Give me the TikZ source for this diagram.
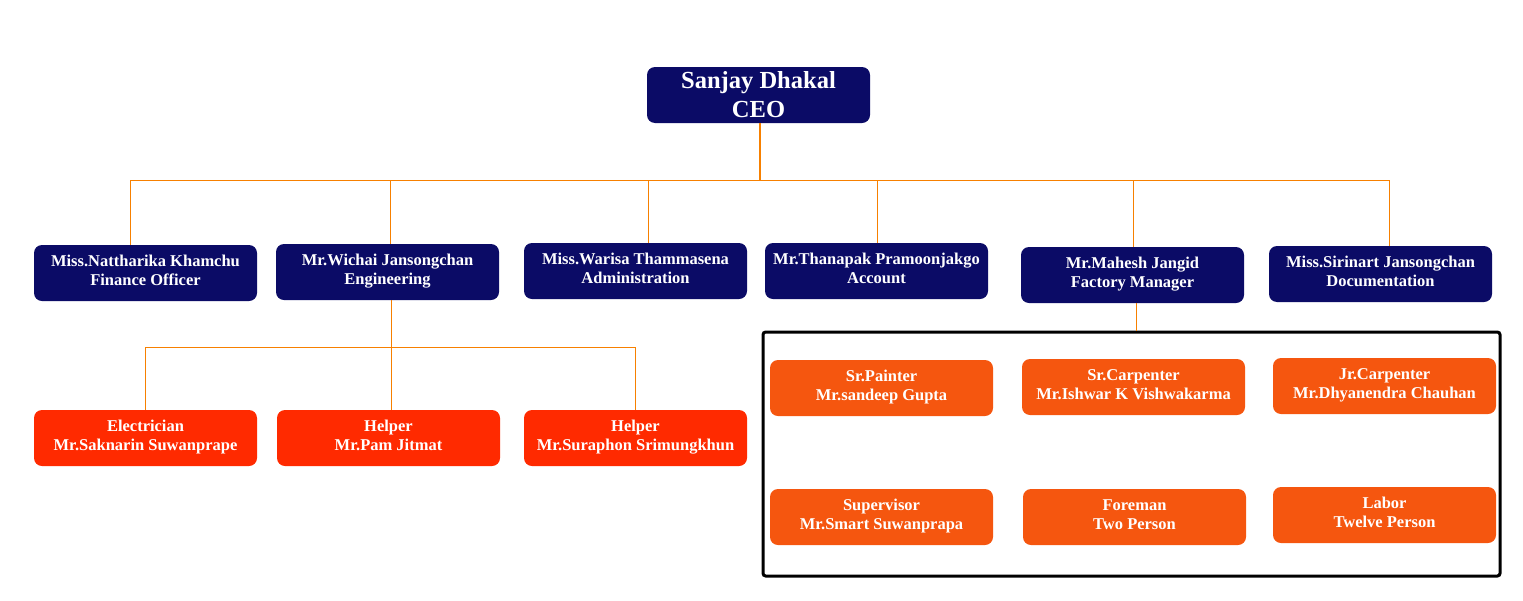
\documentclass[tikz,border=0pt]{standalone}
\usepackage{fontspec}
\setmainfont{Liberation Serif}
\definecolor{navy}{RGB}{11,11,102}
\definecolor{redbox}{RGB}{255,42,0}
\definecolor{orgbox}{RGB}{245,86,15}
\definecolor{conn}{RGB}{247,128,0}
\tikzset{
  core/.style={rounded corners=6pt, text=white, align=center, inner sep=0pt,
    minimum width=223*0.75pt, minimum height=56*0.75pt},
  base/.style={core, font=\bfseries\fontsize{12.375}{14.25}\selectfont,
    execute at begin node={\strut}, execute at end node={\strut}},
  bluebox/.style={base, fill=navy},
  redb/.style={base, fill=redbox},
  orgb/.style={base, fill=orgbox},
  ceobox/.style={core, fill=navy, font=\bfseries\fontsize{18.4}{21.75}\selectfont},
  link/.style={draw=conn, line width=0.75pt},
  thick link/.style={draw=conn, line width=1.5pt},
}
\begin{document}
\begin{tikzpicture}[x=0.75pt,y=-0.75pt]
\useasboundingbox (0,0) rectangle (1523,600);

\node[ceobox] (ceo) at (758.5,95) {Sanjay Dhakal\\CEO};

\node[bluebox] (b1) at (145.5,273) {Miss.Nattharika Khamchu\\Finance Officer};
\node[bluebox] (b2) at (387.5,272) {Mr.Wichai Jansongchan\\Engineering};
\node[bluebox] (b3) at (635.5,271) {Miss.Warisa Thammasena\\Administration};
\node[bluebox] (b4) at (876.5,271) {Mr.Thanapak Pramoonjakgo\\Account};
\node[bluebox] (b5) at (1132.5,275) {Mr.Mahesh Jangid\\Factory Manager};
\node[bluebox] (b6) at (1380.5,274) {Miss.Sirinart Jansongchan\\Documentation};

\node[redb] (r1) at (145.5,438) {Electrician\\Mr.Saknarin Suwanprape};
\node[redb] (r2) at (388.5,438) {Helper\\Mr.Pam Jitmat};
\node[redb] (r3) at (635.5,438) {Helper\\Mr.Suraphon Srimungkhun};

\node[draw=black, line width=2.25pt, rounded corners=2pt, inner sep=0pt,
  minimum width=737*0.75pt, minimum height=244*0.75pt] (grp) at (1131.5,454) {};

\node[orgb] (o1) at (881.5,388) {Sr.Painter\\Mr.sandeep Gupta};
\node[orgb] (o2) at (1133.5,387) {Sr.Carpenter\\Mr.Ishwar K Vishwakarma};
\node[orgb] (o3) at (1384.5,386) {Jr.Carpenter\\Mr.Dhyanendra Chauhan};
\node[orgb] (o4) at (881.5,517) {Supervisor\\Mr.Smart Suwanprapa};
\node[orgb] (o5) at (1134.5,517) {Foreman\\Two Person};
\node[orgb] (o6) at (1384.5,515) {Labor\\Twelve Person};

% top bus
\coordinate (c0) at (760,180);
\coordinate (c1) at (130,180);
\coordinate (c2) at (390,180);
\coordinate (c3) at (648,180);
\coordinate (c4) at (877,180);
\coordinate (c5) at (1133,180);
\coordinate (c6) at (1389,180);
\draw[thick link] (c0 |- ceo.south) -- (c0);
\draw[link] (c1) -- (c6);
\draw[link] (c1) -- (c1 |- b1.north);
\draw[link] (c2) -- (c2 |- b2.north);
\draw[link] (c3) -- (c3 |- b3.north);
\draw[link] (c4) -- (c4 |- b4.north);
\draw[link] (c5) -- (c5 |- b5.north);
\draw[link] (c6) -- (c6 |- b6.north);

% engineering
\coordinate (e0) at (391,347);
\coordinate (e1) at (145,347);
\coordinate (e3) at (635,347);
\draw[link] (e0 |- b2.south) -- (e0);
\draw[link] (e1) -- (e3);
\draw[link] (e1) -- (e1 |- r1.north);
\draw[link] (e0) -- (e0 |- r2.north);
\draw[link] (e3) -- (e3 |- r3.north);

% factory
\coordinate (f0) at (1136,330);
\draw[link] (f0 |- b5.south) -- (f0 |- grp.north);
\end{tikzpicture}
\end{document}
